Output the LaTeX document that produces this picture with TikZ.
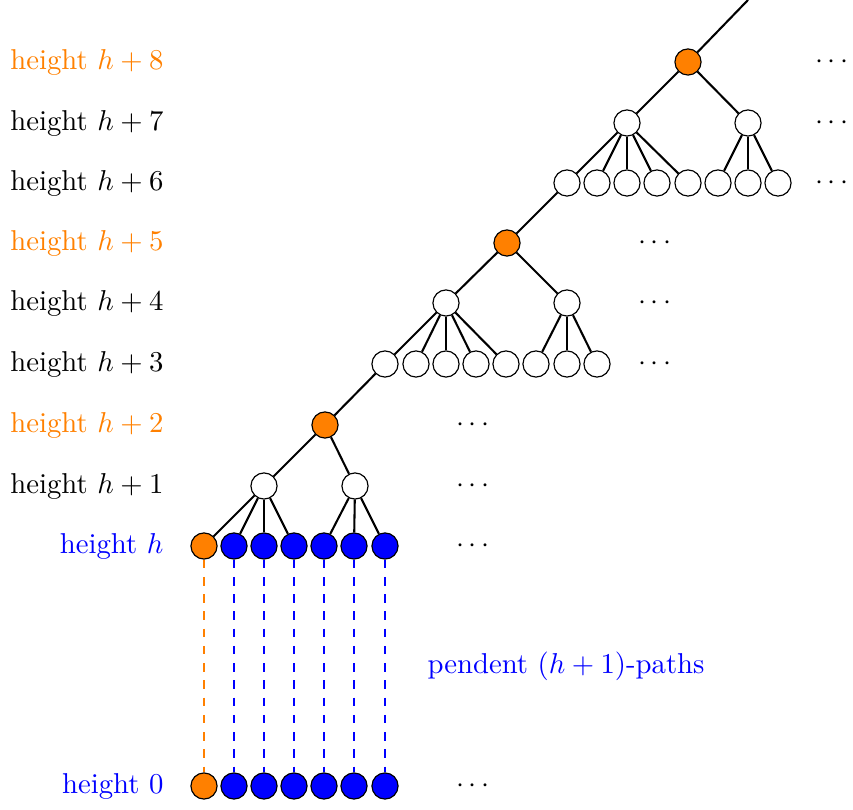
\documentclass[tikz,border=0pt]{standalone}
\begin{document}
\begin{tikzpicture}[x=0.348pt,y=-0.348pt,
  vtx/.style={circle,draw=black,line width=0.4pt,minimum size=9.1pt,inner sep=0pt},
  wv/.style={vtx,fill=white},
  ov/.style={vtx,fill=orange},
  bv/.style={vtx,fill=blue},
  ed/.style={line width=0.72pt},
  lab/.style={anchor=east,inner sep=0pt},
  dt/.style={inner sep=0pt}]
\useasboundingbox (0,0) rectangle (853,810);
% labels
\node[lab,text=orange] (l8) at (164,62) {height $h+8$};
\node[lab] (l7) at (164,123) {height $h+7$};
\node[lab] (l6) at (164,183) {height $h+6$};
\node[lab,text=orange] (l5) at (164,243) {height $h+5$};
\node[lab] (l4) at (164,303) {height $h+4$};
\node[lab] (l3) at (164,364) {height $h+3$};
\node[lab,text=orange] (l2) at (164,425) {height $h+2$};
\node[lab] (l1) at (164,486) {height $h+1$};
\node[lab,text=blue] (l0h) at (164,546) {height $h$};
\node[lab,text=blue] (l00) at (164,786) {height $0$};
% top block
\coordinate (top) at (748,0);
\node[ov] (o8) at (688,62) {};
\node[wv] (a7) at (627,123) {};
\node[wv] (b7) at (748,123) {};
\foreach \i/\x in {1/567,2/597,3/627,4/657,5/688,6/718,7/748,8/778}
  \node[wv] (c6\i) at (\x,183) {};
\draw[ed] (o8) -- (top);
\draw[ed] (o8) -- (a7); \draw[ed] (o8) -- (b7);
\foreach \i in {1,...,5} \draw[ed] (a7) -- (c6\i);
\foreach \i in {6,7,8} \draw[ed] (b7) -- (c6\i);
% middle block
\node[ov] (o5) at (507,243) {};
\node[wv] (a4) at (446,303) {};
\node[wv] (b4) at (567,303) {};
\foreach \i/\x in {1/385,2/416,3/446,4/476,5/506,6/536,7/567,8/597}
  \node[wv] (c3\i) at (\x,364) {};
\draw[ed] (o5) -- (c61);
\draw[ed] (o5) -- (a4); \draw[ed] (o5) -- (b4);
\foreach \i in {1,...,5} \draw[ed] (a4) -- (c3\i);
\foreach \i in {6,7,8} \draw[ed] (b4) -- (c3\i);
% bottom block
\node[ov] (o2) at (325,425) {};
\node[wv] (a1) at (264,486) {};
\node[wv] (b1) at (355,486) {};
\node[ov] (h1) at (204,546) {};
\foreach \i/\x in {2/234,3/264,4/294,5/324,6/354,7/385}
  \node[bv] (h\i) at (\x,546) {};
\node[ov] (z1) at (204,786) {};
\foreach \i/\x in {2/234,3/264,4/294,5/324,6/354,7/385}
  \node[bv] (z\i) at (\x,786) {};
\draw[ed] (o2) -- (c31);
\draw[ed] (o2) -- (a1); \draw[ed] (o2) -- (b1);
\foreach \i in {1,...,4} \draw[ed] (a1) -- (h\i);
\foreach \i in {5,6,7} \draw[ed] (b1) -- (h\i);
\draw[orange,dashed] (h1) -- (z1);
\foreach \i in {2,...,7} \draw[blue,dashed] (h\i) -- (z\i);
% dots
\node[dt] (d8) at (832,62) {$\cdots$};
\node[dt] (d7) at (832,123) {$\cdots$};
\node[dt] (d6) at (832,183) {$\cdots$};
\node[dt] (d5) at (655,243) {$\cdots$};
\node[dt] (d4) at (655,303) {$\cdots$};
\node[dt] (d3) at (655,364) {$\cdots$};
\node[dt] (d2) at (473,425) {$\cdots$};
\node[dt] (d1) at (473,486) {$\cdots$};
\node[dt] (d0h) at (473,546) {$\cdots$};
\node[dt] (d00) at (473,786) {$\cdots$};
\node[dt,text=blue] (pp) at (566,666) {pendent $(h+1)$-paths};
\end{tikzpicture}
\end{document}
